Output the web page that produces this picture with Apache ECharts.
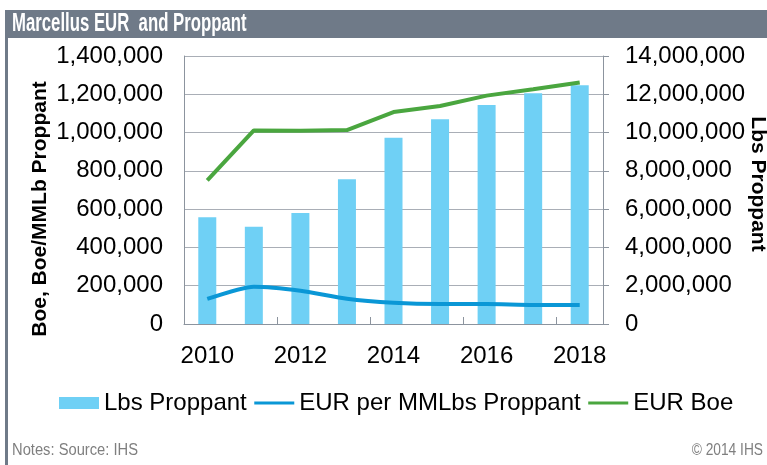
<!DOCTYPE html>
<html>
<head>
<meta charset="utf-8">
<script src="https://cdn.jsdelivr.net/npm/echarts@6/dist/echarts.min.js"></script>
<style>
  html, body { margin: 0; padding: 0; background: #ffffff; }
  #chart { width: 767px; height: 465px; }
</style>
</head>
<body>
<div id="chart"></div>
<script>
// Years on the category axis
const years = ['2010', '2011', '2012', '2013', '2014', '2015', '2016', '2017', '2018'];
// Total proppant per well, lbs (right axis)
const lbsProppant = [5570000, 5080000, 5800000, 7560000, 9730000, 10690000, 11440000, 12050000, 12470000];
// EUR per million lbs of proppant, Boe (left axis)
const eurPerMMLbs = [131000, 195000, 174000, 132000, 111000, 104000, 104000, 99000, 99000];
// Estimated ultimate recovery, Boe (left axis)
const eurBoe = [750000, 1011000, 1009000, 1013000, 1107000, 1139000, 1193000, 1226000, 1262000];

const leftTicks = { min: 0, max: 1400000, interval: 200000 };
const rightTicks = { min: 0, max: 14000000, interval: 2000000 };

const fmt = v => v.toLocaleString('en-US');
const labelFont = 'Liberation Sans, Arial, sans-serif';
const frameGrey = '#6f7a88';
const axisGrey = '#8c949e';

const chart = echarts.init(document.getElementById('chart'), null, { renderer: 'canvas' });

chart.setOption({
  backgroundColor: '#ffffff',
  animation: false,
  grid: { left: 184, right: 164, top: 56, bottom: 141, containLabel: false },
  graphic: [
    // header band
    { type: 'rect', shape: { x: 5, y: 10, width: 762, height: 28 }, style: { fill: frameGrey }, z: 10 },
    // left frame edge
    { type: 'rect', shape: { x: 5, y: 10, width: 3, height: 455 }, style: { fill: frameGrey }, z: 10 },
    {
      type: 'text', x: 12, y: 24, scaleX: 0.67, z: 11,
      style: { text: 'Marcellus EUR  and Proppant', fill: '#ffffff', verticalAlign: 'middle',
               font: 'bold 25px ' + labelFont }
    },
    {
      type: 'text', x: 40, y: 209, rotation: Math.PI / 2, z: 11,
      style: { text: 'Boe, Boe/MMLb Proppant', fill: '#000000', align: 'center', verticalAlign: 'middle',
               font: 'bold 21px ' + labelFont }
    },
    {
      type: 'text', x: 758, y: 184, rotation: -Math.PI / 2, z: 11,
      style: { text: 'Lbs Proppant', fill: '#000000', align: 'center', verticalAlign: 'middle',
               font: 'bold 21px ' + labelFont }
    },
    {
      type: 'text', x: 12, y: 451, scaleX: 0.92, z: 11,
      style: { text: 'Notes: Source: IHS', fill: '#7f7f7f', verticalAlign: 'middle', font: '16px ' + labelFont }
    },
    {
      type: 'text', x: 763, y: 451, scaleX: 0.86, z: 11,
      style: { text: '© 2014 IHS', fill: '#7f7f7f', align: 'right', verticalAlign: 'middle', font: '16px ' + labelFont }
    }
  ],
  legend: {
    top: 386,
    left: 54,
    itemWidth: 40,
    itemHeight: 12,
    itemGap: 6,
    textStyle: { fontFamily: labelFont, fontSize: 24, color: '#000000' },
    data: [
      { name: 'Lbs Proppant', icon: 'rect' },
      { name: 'EUR per MMLbs Proppant', itemStyle: { opacity: 0 }, lineStyle: { width: 3 } },
      { name: 'EUR Boe', itemStyle: { opacity: 0 }, lineStyle: { width: 3 } }
    ]
  },
  xAxis: {
    type: 'category',
    data: years,
    axisLine: { lineStyle: { color: axisGrey, width: 1 } },
    axisTick: { show: true, inside: true, length: 7, lineStyle: { color: axisGrey } },
    axisLabel: { interval: 1, margin: 20, fontFamily: labelFont, fontSize: 24, color: '#000000' },
    splitLine: { show: false }
  },
  yAxis: [
    {
      type: 'value',
      position: 'left',
      min: leftTicks.min, max: leftTicks.max, interval: leftTicks.interval,
      axisLine: { show: true, lineStyle: { color: axisGrey, width: 1 } },
      axisTick: { show: false },
      axisLabel: { margin: 21, fontFamily: labelFont, fontSize: 24, color: '#000000', formatter: fmt },
      splitLine: { show: true, lineStyle: { color: '#a9aeb6', width: 1 } }
    },
    {
      type: 'value',
      position: 'right',
      min: rightTicks.min, max: rightTicks.max, interval: rightTicks.interval,
      axisLine: { show: true, lineStyle: { color: axisGrey, width: 1 } },
      axisTick: { show: true, length: 6, lineStyle: { color: axisGrey } },
      axisLabel: { margin: 22, fontFamily: labelFont, fontSize: 24, color: '#000000', formatter: fmt },
      splitLine: { show: false }
    }
  ],
  series: [
    {
      name: 'Lbs Proppant',
      type: 'bar',
      yAxisIndex: 1,
      data: lbsProppant,
      barWidth: 18,
      itemStyle: { color: '#6fd0f5' },
      z: 2
    },
    {
      name: 'EUR per MMLbs Proppant',
      type: 'line',
      yAxisIndex: 0,
      data: eurPerMMLbs,
      symbol: 'none',
      smooth: 0.2,
      lineStyle: { color: '#0a97d6', width: 4 },
      itemStyle: { color: '#0a97d6' },
      z: 3
    },
    {
      name: 'EUR Boe',
      type: 'line',
      yAxisIndex: 0,
      data: eurBoe,
      symbol: 'none',
      lineStyle: { color: '#4aa63f', width: 4 },
      itemStyle: { color: '#4aa63f' },
      z: 3
    }
  ]
});
</script>
</body>
</html>
